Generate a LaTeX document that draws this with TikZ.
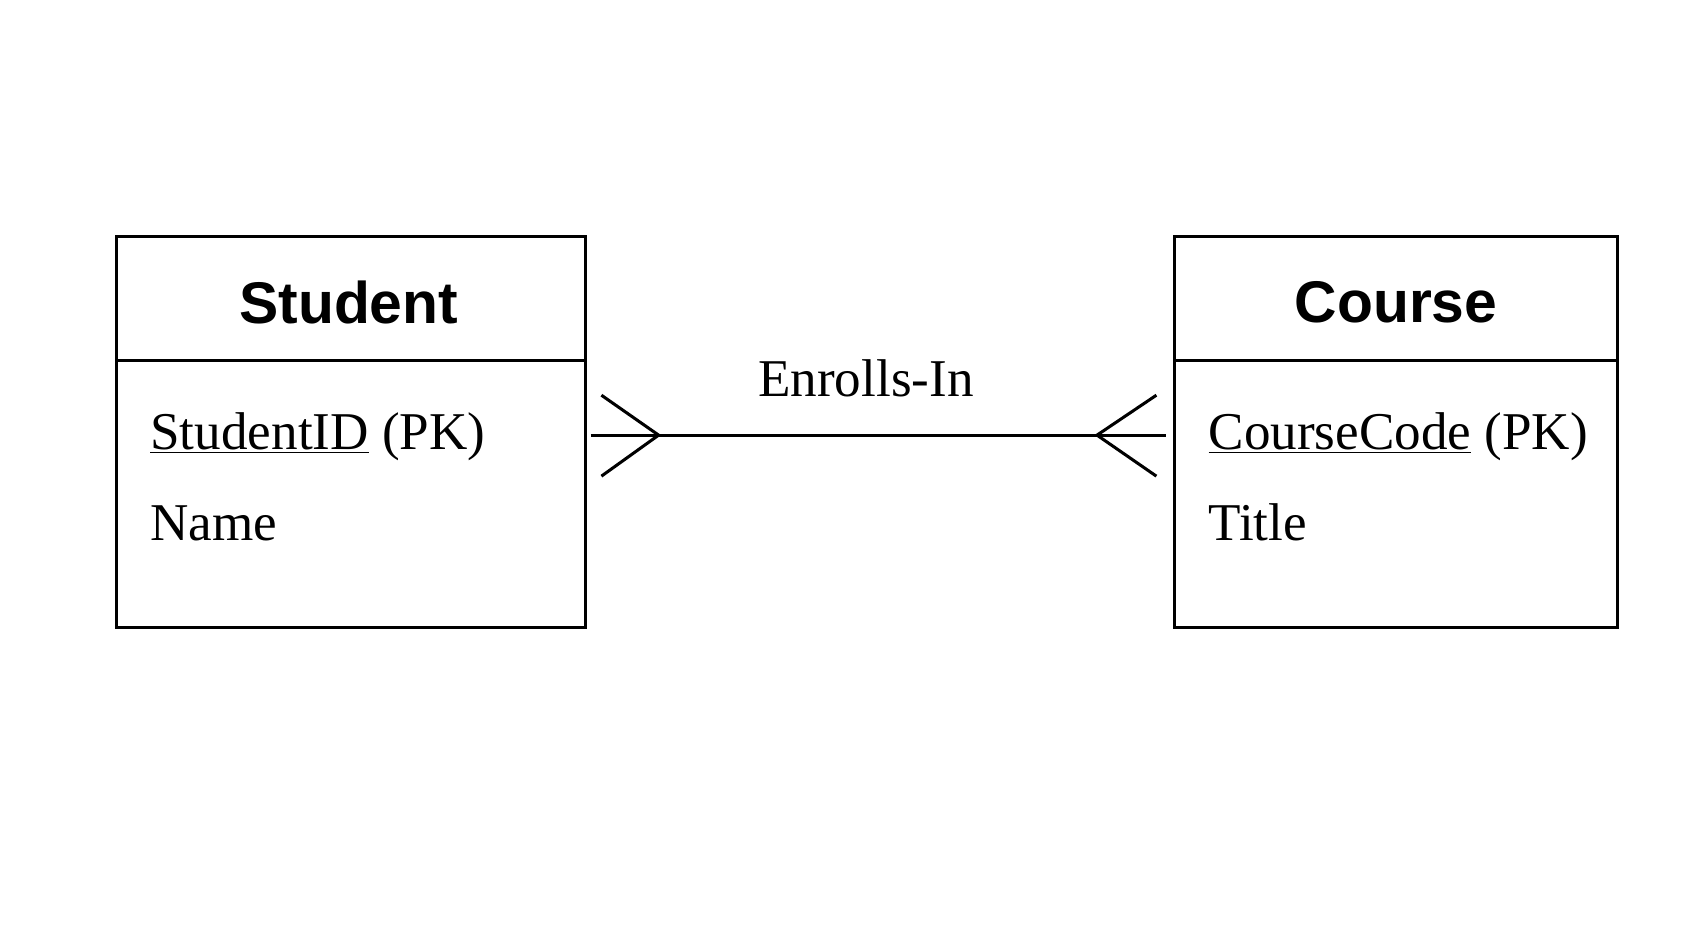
\documentclass[tikz,border=0pt]{standalone}
\usepackage{fontspec}
\setmainfont{Liberation Serif}
\newfontfamily\hdr{Liberation Sans}
\begin{document}
\begin{tikzpicture}[x=0.02cm,y=-0.02cm,
  box/.style={line width=1.6pt},
  hd/.style={font=\hdr\fontsize{31}{34}\selectfont\bfseries},
  attr/.style={font=\fontsize{28}{32}\selectfont,anchor=base west,inner sep=0pt},
  ln/.style={line width=1.6pt}]
\useasboundingbox (0,0) rectangle (1568,860);
\draw[box] (108,219) rectangle (542,581); \draw[box] (108,334) -- (542,334);
\draw[box] (1088,219) rectangle (1498,581); \draw[box] (1088,334) -- (1498,334);
\node[hd] (sh) at (323,280) {Student};
\node[hd] (ch) at (1293,280) {Course};
\node[attr] (s1) at (139,416) {\underline{StudentID} (PK)};
\node[attr] (s2) at (139,501) {Name};
\node[attr] (c1) at (1119,416) {\underline{CourseCode} (PK)};
\node[attr] (c2) at (1119,501) {Title};
\coordinate (a) at (547,403); \coordinate (b) at (1080,403);
\coordinate (l1) at (557,366); \coordinate (l2) at (557,441); \coordinate (lt) at (610,403);
\coordinate (r1) at (1071,366); \coordinate (r2) at (1071,441); \coordinate (rt) at (1016,403);
\draw[ln] (a) -- (b);
\draw[ln] (l1) -- (lt) -- (l2);
\draw[ln] (r1) -- (rt) -- (r2);
\node[font=\fontsize{28}{32}\selectfont] (e) at (802,350) {Enrolls-In};
\end{tikzpicture}
\end{document}
